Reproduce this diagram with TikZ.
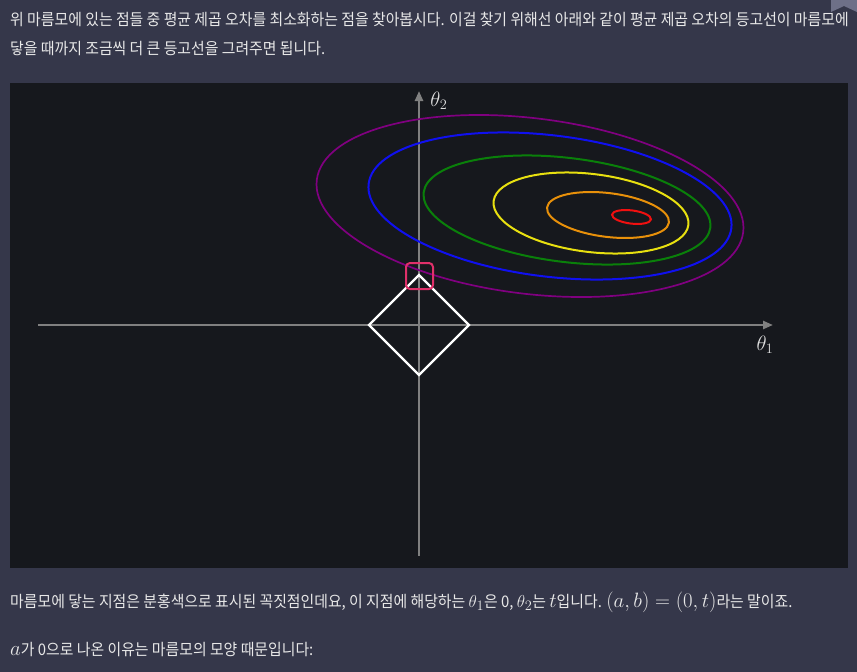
\documentclass[tikz,border=0pt]{standalone}
\usepackage{fontspec}
\setmainfont{Noto Sans CJK KR}[FakeStretch=0.93]
\usetikzlibrary{arrows.meta}
\definecolor{pagebg}{HTML}{35374A}
\definecolor{panelbg}{HTML}{16181D}
\definecolor{axisgray}{HTML}{808080}
\definecolor{txt}{HTML}{E8E8E8}
\definecolor{pinkc}{HTML}{E0306A}
\definecolor{markc}{HTML}{6E7088}
\definecolor{cpurple}{HTML}{800080}
\definecolor{cblue}{HTML}{1010F0}
\definecolor{cgreen}{HTML}{0A800A}
\definecolor{cyellow}{HTML}{E8E010}
\definecolor{corange}{HTML}{E8900A}
\definecolor{cred}{HTML}{F01010}
\tikzset{
  bodytext/.style={text=txt, anchor=base west, inner sep=0pt, font=\fontsize{16}{19}\selectfont},
  axisline/.style={draw=axisgray, line width=2.4pt, -{Triangle[length=10pt,width=8pt]}},
  axislabel/.style={text=txt!90!gray, inner sep=0pt, font=\fontsize{21}{23}\selectfont},
  contour/.style={line width=2pt},
}
\newcommand{\mth}[1]{{\fontsize{19}{21}\selectfont$#1$}}
\newcommand{\bigmth}[1]{{\fontsize{21}{23}\selectfont$#1$}}
\begin{document}
\begin{tikzpicture}[x=1pt,y=-1pt]
\useasboundingbox (0,0) rectangle (857,672);
\fill[pagebg] (0,0) rectangle (857,672);
% bookmark icon
\fill[markc] (831,0) -- (857,0) -- (857,12) -- (844,6) -- (831,12) -- cycle;
% top text
\node[bodytext] (t1) at (10,25) {위 마름모에 있는 점들 중 평균 제곱 오차를 최소화하는 점을 찾아봅시다. 이걸 찾기 위해선 아래와 같이 평균 제곱 오차의 등고선이 마름모에};
\node[bodytext] (t2) at (10,54) {닿을 때까지 조금씩 더 큰 등고선을 그려주면 됩니다.};
% panel
\fill[panelbg] (10,83) rectangle (848,568);
% axes
\coordinate (xs) at (38,325);
\coordinate (xe) at (773,325);
\coordinate (ys) at (419,556);
\coordinate (ye) at (419,91);
\draw[axisline] (xs) -- (xe);
\draw[axisline] (ys) -- (ye);
\node[axislabel] (l2) at (439,101) {$\theta_2$};
\node[axislabel] (l1) at (765,345) {$\theta_1$};
% contours
\draw[contour, cpurple, line width=1.7pt, rotate around={-7:(530,206)}] (530,206) ellipse [x radius=214.8pt, y radius=87.8pt];
\draw[contour, cblue, rotate around={-7:(550,206)}] (550,206) ellipse [x radius=182.7pt, y radius=70.6pt];
\draw[contour, cgreen, rotate around={-7:(567,210)}] (567,210) ellipse [x radius=144.4pt, y radius=52pt];
\draw[contour, cyellow, rotate around={-7:(591,213)}] (591,213) ellipse [x radius=98.1pt, y radius=39pt];
\draw[contour, corange, rotate around={-7:(608,215)}] (608,215) ellipse [x radius=61.4pt, y radius=21.9pt];
\draw[contour, cred, rotate around={-7:(631.5,217)}] (631.5,217) ellipse [x radius=19.6pt, y radius=6.6pt];
% diamond
\coordinate (dT) at (419,275);
\coordinate (dR) at (469,325);
\coordinate (dB) at (419,375);
\coordinate (dL) at (369,325);
\draw[white, line width=2.2pt, line join=miter] (dT) -- (dR) -- (dB) -- (dL) -- cycle;
% pink square
\draw[pinkc, line width=2pt, rounded corners=4pt] (406,263) rectangle (433,289);
% bottom text
\node[bodytext] (b1) at (10,607) {마름모에 닿는 지점은 분홍색으로 표시된 꼭짓점인데요, 이 지점에 해당하는 \mth{\theta_1}은 0, \mth{\theta_2}는 \bigmth{t}입니다. \bigmth{(a,b)=(0,t)}라는 말이죠.};
\node[bodytext] (b2) at (10,655) {\bigmth{a}가 0으로 나온 이유는 마름모의 모양 때문입니다:};
\end{tikzpicture}
\end{document}
